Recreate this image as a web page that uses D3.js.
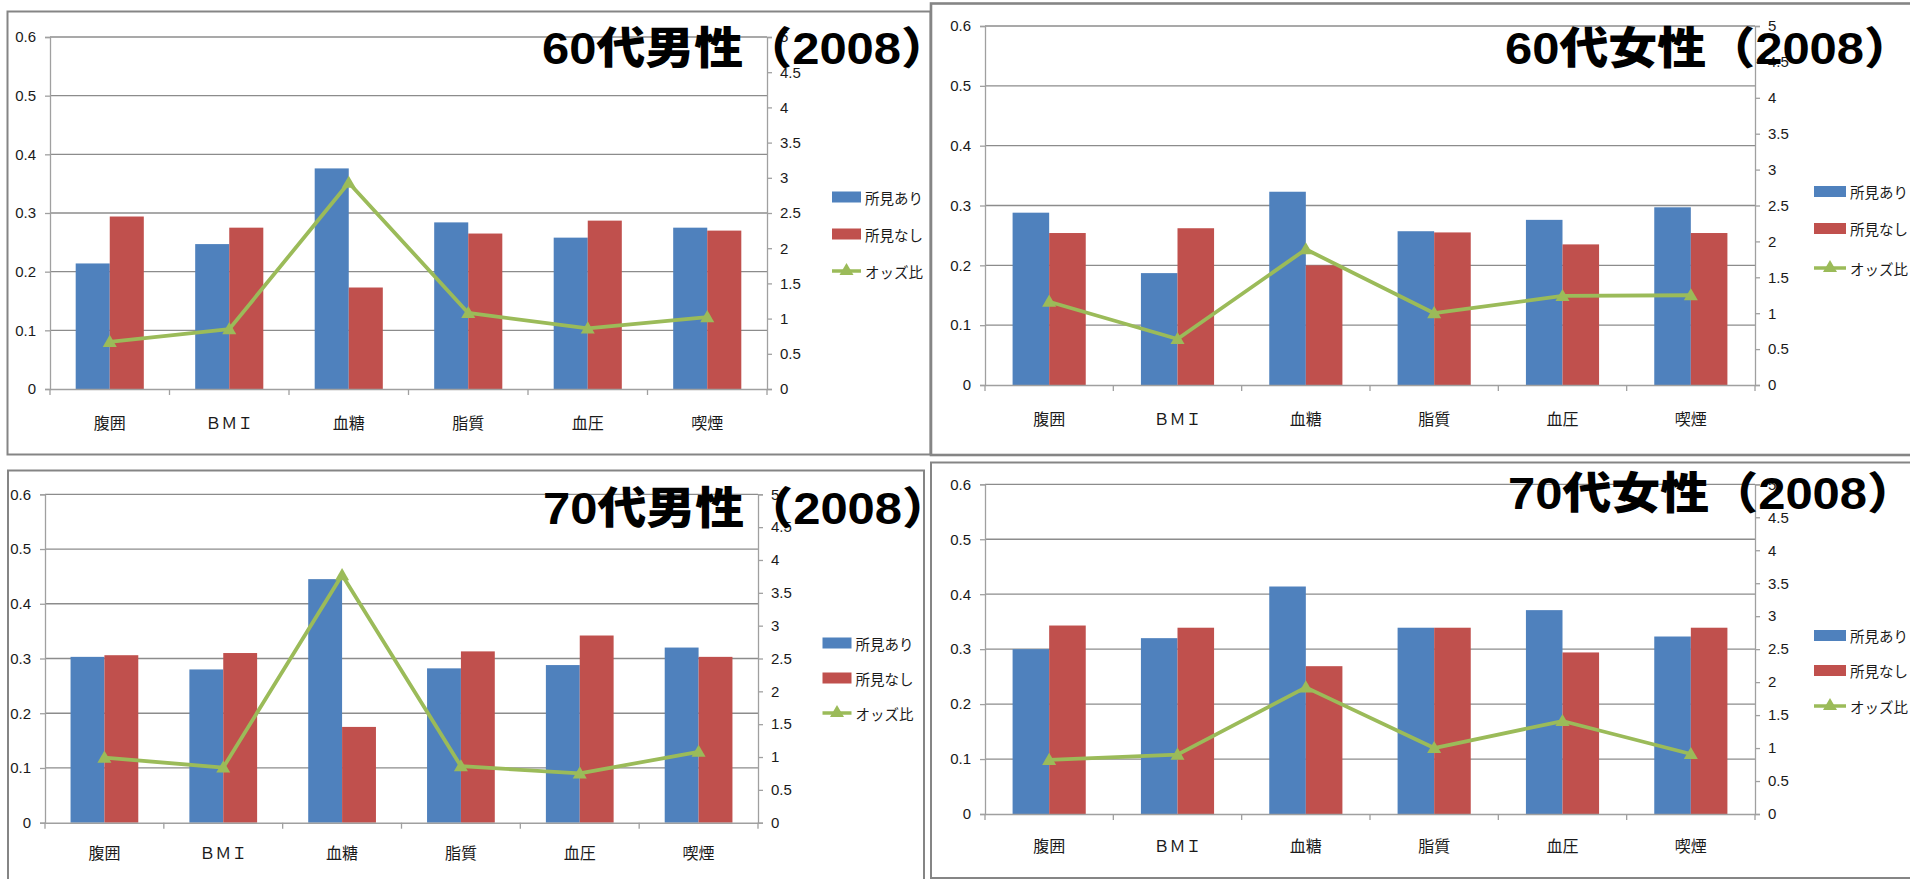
<!DOCTYPE html>
<html><head><meta charset="utf-8">
<script src="https://cdn.jsdelivr.net/npm/d3@7"></script>
<style>
html,body{margin:0;padding:0;background:#fff;overflow:hidden;}
svg{display:block;}
</style></head>
<body>
<svg id="c" width="1910" height="879"></svg>
<script>
// ---- data ----
const categories = ["腹囲","ＢＭＩ","血糖","脂質","血圧","喫煙"];
const seriesNames = ["所見あり","所見なし","オッズ比"];
const leftTicks = [0,0.1,0.2,0.3,0.4,0.5,0.6];
const rightTicks = [0,0.5,1,1.5,2,2.5,3,3.5,4,4.5,5];

const titles = ["60代男性（2008）","60代女性（2008）","70代男性（2008）","70代女性（2008）"];

const m60_yes = [0.214,0.247,0.376,0.284,0.258,0.275];
const m60_no  = [0.294,0.275,0.173,0.265,0.287,0.270];
const m60_or  = [0.67,0.85,2.93,1.08,0.86,1.02];

const f60_yes = [0.288,0.187,0.323,0.257,0.276,0.297];
const f60_no  = [0.254,0.262,0.200,0.255,0.235,0.254];
const f60_or  = [1.16,0.64,1.89,1.00,1.24,1.25];

const m70_yes = [0.303,0.280,0.445,0.282,0.288,0.320];
const m70_no  = [0.306,0.310,0.175,0.313,0.342,0.303];
const m70_or  = [0.99,0.84,3.77,0.86,0.75,1.08];

const f70_yes = [0.300,0.320,0.414,0.339,0.371,0.323];
const f70_no  = [0.343,0.339,0.269,0.339,0.294,0.339];
const f70_or  = [0.82,0.90,1.92,1.00,1.41,0.91];

// ---- layout (positions only) ----
const layout = [
  {frame:[7.5,11.5,930.5,454.5], x0:50, x1:767, yTop:37, yBase:389, legX:832, legW:29, legY:[197,234,271], catY:422, tx:542, ty:64},
  {frame:[931,3.5,1915,455], x0:985, x1:1755, yTop:26, yBase:385, legX:1814, legW:32, legY:[191.5,228.5,268], catY:418, tx:1505, ty:64},
  {frame:[8,470.5,924,885], x0:45, x1:758, yTop:494.3, yBase:822.7, legX:822.5, legW:29, legY:[643,678,713], catY:852, tx:543, ty:524},
  {frame:[931,462.5,1915,878], x0:985, x1:1755, yTop:484.3, yBase:814, legX:1814, legW:32, legY:[635.5,670.5,706], catY:845, tx:1508, ty:509}
];
const panelData = [
  [m60_yes,m60_no,m60_or],[f60_yes,f60_no,f60_or],
  [m70_yes,m70_no,m70_or],[f70_yes,f70_no,f70_or]
];

const BLUE="#4F81BD", RED="#C0504D", GREEN="#9BBB59";
const GRID="#8c8c8c", AXIS="#a0a0a0", FRAME="#858585", TXT="#1a1a1a";
const NUMFONT="'Liberation Sans', Arial, sans-serif";
const JPFONT="'Noto Sans CJK JP', sans-serif";
const TITLEFONT="'Liberation Sans', 'Noto Sans CJK JP', sans-serif";

const svg = d3.select("#c");
const tri = d3.symbol().type(d3.symbolTriangle).size(85);

layout.forEach((L,i)=>{
  const [yes,no,or] = panelData[i];
  const g = svg.append("g");
  const [fx1,fy1,fx2,fy2] = L.frame;
  g.append("rect").attr("x",fx1).attr("y",fy1).attr("width",fx2-fx1).attr("height",fy2-fy1)
    .attr("fill","#fff").attr("stroke",FRAME).attr("stroke-width",i===1?2.6:2);

  const x = d3.scaleBand().domain(categories).range([L.x0,L.x1]).paddingInner(0).paddingOuter(0);
  const xs = d3.scaleBand().domain([0,1]).range([x.bandwidth()*0.215, x.bandwidth()*0.785]);
  const yL = d3.scaleLinear().domain([0,0.6]).range([L.yBase,L.yTop]);
  const yR = d3.scaleLinear().domain([0,5]).range([L.yBase,L.yTop]);

  // gridlines
  g.append("g").selectAll("line").data(leftTicks.filter(t=>t>0)).join("line")
    .attr("x1",L.x0).attr("x2",L.x1).attr("y1",d=>yL(d)).attr("y2",d=>yL(d))
    .attr("stroke",GRID).attr("stroke-width",1.3);

  // left axis
  const la = g.append("g").attr("transform",`translate(${L.x0},0)`)
    .call(d3.axisLeft(yL).tickValues(leftTicks).tickSize(5).tickPadding(9).tickFormat(d3.format("")));
  la.select(".domain").attr("stroke",AXIS).attr("stroke-width",1.3);
  la.selectAll(".tick line").attr("stroke",AXIS).attr("stroke-width",1.3);
  la.selectAll(".tick text").attr("font-family",NUMFONT).attr("font-size",15).attr("fill",TXT);

  // right axis
  const ra = g.append("g").attr("transform",`translate(${L.x1},0)`)
    .call(d3.axisRight(yR).tickValues(rightTicks).tickSize(5).tickPadding(8).tickFormat(d3.format("")));
  ra.select(".domain").attr("stroke",AXIS).attr("stroke-width",1.3);
  ra.selectAll(".tick line").attr("stroke",AXIS).attr("stroke-width",1.3);
  ra.selectAll(".tick text").attr("font-family",NUMFONT).attr("font-size",15).attr("fill",TXT);

  // bars
  const bars = g.append("g");
  [yes,no].forEach((arr,k)=>{
    bars.selectAll(null).data(arr).join("rect")
      .attr("x",(d,j)=>x(categories[j])+xs(k))
      .attr("width",xs.bandwidth())
      .attr("y",d=>yL(d)).attr("height",d=>L.yBase-yL(d))
      .attr("fill",k===0?BLUE:RED);
  });

  // x axis
  const xa = g.append("g").attr("transform",`translate(0,${L.yBase})`)
    .call(d3.axisBottom(x).tickSize(0).tickFormat(""));
  xa.select(".domain").attr("stroke",AXIS).attr("stroke-width",1.5);
  xa.selectAll(".tick").remove();
  const bounds = categories.map(c=>x(c)).concat([L.x1]);
  g.append("g").selectAll("line").data(bounds).join("line")
    .attr("x1",d=>d).attr("x2",d=>d).attr("y1",L.yBase).attr("y2",L.yBase+6)
    .attr("stroke",AXIS).attr("stroke-width",1.3);
  g.append("g").selectAll("text").data(categories).join("text")
    .attr("x",d=>x(d)+x.bandwidth()/2).attr("y",L.catY)
    .attr("text-anchor","middle").attr("dominant-baseline","central")
    .attr("font-family",JPFONT).attr("font-size",16).attr("fill",TXT).text(d=>d);

  // odds line
  const line = d3.line().x((d,j)=>x(categories[j])+x.bandwidth()/2).y(d=>yR(d));
  g.append("path").datum(or).attr("d",line).attr("fill","none")
    .attr("stroke",GREEN).attr("stroke-width",3.8).attr("stroke-linejoin","round");
  g.append("g").selectAll("path").data(or).join("path")
    .attr("d",tri).attr("fill",GREEN)
    .attr("transform",(d,j)=>`translate(${x(categories[j])+x.bandwidth()/2},${yR(d)+1})`);

  // legend
  const lg = g.append("g");
  [BLUE,RED].forEach((c,k)=>{
    lg.append("rect").attr("x",L.legX).attr("y",L.legY[k]-5.5).attr("width",L.legW).attr("height",11).attr("fill",c);
  });
  lg.append("line").attr("x1",L.legX).attr("x2",L.legX+L.legW).attr("y1",L.legY[2]).attr("y2",L.legY[2])
    .attr("stroke",GREEN).attr("stroke-width",3.5);
  lg.append("path").attr("d",tri).attr("fill",GREEN)
    .attr("transform",`translate(${L.legX+L.legW/2},${L.legY[2]})`);
  seriesNames.forEach((s,k)=>{
    lg.append("text").attr("x",L.legX+L.legW+4).attr("y",L.legY[k])
      .attr("dominant-baseline","central").attr("font-family",JPFONT).attr("font-size",14.5)
      .attr("fill",TXT).text(s);
  });
});

// titles on top
layout.forEach((L,i)=>{
  svg.append("text").attr("x",L.tx).attr("y",L.ty)
    .attr("font-family",TITLEFONT).attr("font-weight",900).attr("font-size",44)
    .attr("textLength",408).attr("lengthAdjust","spacingAndGlyphs")
    .attr("fill","#000").text(titles[i]);
});
</script>
</body></html>
